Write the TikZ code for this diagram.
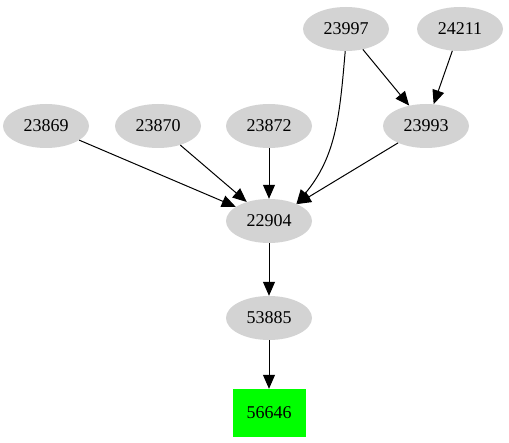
\documentclass[tikz,border=0pt]{standalone}
\usepackage{fontspec}
\setmainfont{Liberation Serif}
\usetikzlibrary{shapes.geometric,arrows.meta}
\definecolor{jobgray}{HTML}{D3D3D3}
\definecolor{jobgreen}{HTML}{00FF00}
\begin{document}
\begin{tikzpicture}[x=1pt,y=-1pt,
    job/.style={ellipse, fill=jobgray, minimum width=86pt, minimum height=44pt, inner sep=0pt, font=\fontsize{18}{20}\selectfont},
    sink/.style={rectangle, fill=jobgreen, minimum width=73pt, minimum height=48pt, inner sep=0pt, font=\fontsize{18}{20}\selectfont},
    dep/.style={-{Triangle[length=14pt,width=12pt]}, line width=1pt}]
    \useasboundingbox (0,0) rectangle (509,443);
    \node[job] (n23997) at (346,29) {23997};
    \node[job] (n24211) at (460,29) {24211};
    \node[job] (n23869) at (46,126) {23869};
    \node[job] (n23870) at (158,126) {23870};
    \node[job] (n23872) at (269,126) {23872};
    \node[job] (n23993) at (426,126) {23993};
    \node[job] (n22904) at (269,221) {22904};
    \node[job] (n53885) at (269,318) {53885};
    \node[sink] (n56646) at (269,413) {56646};
    \draw[dep] (n23869) -- (n22904);
    \draw[dep] (n23870) -- (n22904);
    \draw[dep] (n23872) -- (n22904);
    \draw[dep] (n23997.-92) to[out=-95,in=50] (n22904.32);
    \draw[dep] (n23997) -- (n23993);
    \draw[dep] (n24211) -- (n23993);
    \draw[dep] (n23993) -- (n22904);
    \draw[dep] (n22904) -- (n53885);
    \draw[dep] (n53885) -- (n56646);
\end{tikzpicture}
\end{document}
